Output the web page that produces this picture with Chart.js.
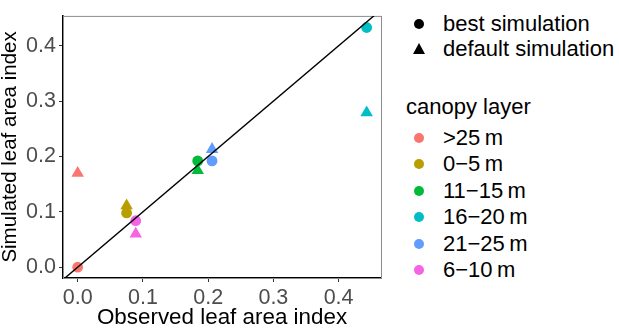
<!DOCTYPE html>
<html>
<head>
<meta charset="utf-8">
<script src="https://cdn.jsdelivr.net/npm/chart.js@4/dist/chart.umd.min.js"></script>
<style>
  html, body { margin: 0; padding: 0; background: #fff; }
  #wrap { position: relative; width: 619px; height: 329px; font-family: "Liberation Sans", Arial, sans-serif; }
  #plot { position: absolute; left: 0; top: 0; }
  .lg { position: absolute; color: #000; white-space: nowrap; }
  .sym { position: absolute; }
</style>
</head>
<body>
<div id="wrap">
  <canvas id="plot" width="390" height="329"></canvas>
  <div id="legend"></div>
</div>
<script>
// canopy layers (colour legend)
var layers = ['>25\u2009m', '0\u22125\u2009m', '11\u221215\u2009m', '16\u221220\u2009m', '21\u221225\u2009m', '6\u221210\u2009m'];
var layerColors = ['#F8766D', '#B79F00', '#00BA38', '#00BFC4', '#619CFF', '#F564E3'];

// observed vs simulated leaf area index, one value per layer
var observed = [0.0, 0.075, 0.184, 0.443, 0.206, 0.089];
var bestSim = [0.0, 0.098, 0.192, 0.433, 0.192, 0.084];
var defaultSim = [0.170, 0.111, 0.175, 0.279, 0.213, 0.060];

var shapeNames = ['best simulation', 'default simulation'];
var xTicks = [0.0, 0.1, 0.2, 0.3, 0.4];
var yTicks = [0.0, 0.1, 0.2, 0.3, 0.4];
var identityRange = [-0.1, 0.6];

Chart.defaults.font.family = '"Liberation Sans", Arial, sans-serif';

function pts(xs, ys) {
    return xs.map(function (v, i) { return { x: v, y: ys[i] }; });
}

var panelBox = {
    id: 'panelBox',
    beforeDatasetsDraw: function (chart) {
        var a = chart.chartArea, ctx = chart.ctx;
        ctx.save();
        ctx.strokeStyle = '#8c8c8c';
        ctx.lineWidth = 1;
        ctx.strokeRect(a.left + 0.5, a.top + 0.5, a.right - a.left, a.bottom - a.top);
        ctx.restore();
    }
};

function axis(title, min, max, ticks, fitKey, fitVal, titleSize) {
    return {
        type: 'linear',
        min: min,
        max: max,
        afterBuildTicks: function (s) { s.ticks = ticks.map(function (v) { return { value: v }; }); },
        afterFit: function (s) { s[fitKey] = fitVal; },
        grid: { drawOnChartArea: false, drawTicks: true, tickLength: 4, color: '#333' },
        border: { display: true, color: '#000', width: 1.6 },
        ticks: {
            color: '#4d4d4d',
            font: { size: 21.5 },
            padding: 3,
            callback: function (v) { return v.toFixed(1); }
        },
        title: { display: true, text: title, color: '#000', font: { size: titleSize, lineHeight: 1 }, padding: 0 }
    };
}

new Chart(document.getElementById('plot'), {
    type: 'scatter',
    data: {
        datasets: [{
            type: 'line',
            data: pts(identityRange, identityRange),
            borderColor: '#000',
            borderWidth: 1.4,
            pointRadius: 0
        }, {
            label: shapeNames[0],
            data: pts(observed, bestSim),
            pointStyle: 'circle',
            pointRadius: 5.4,
            borderWidth: 0,
            backgroundColor: layerColors
        }, {
            label: shapeNames[1],
            data: pts(observed, defaultSim),
            pointStyle: 'triangle',
            pointRadius: 7.2,
            borderWidth: 0,
            backgroundColor: layerColors
        }]
    },
    options: {
        responsive: false,
        animation: false,
        devicePixelRatio: 1,
        layout: { padding: { top: 2, right: 9, left: 0, bottom: 0 } },
        plugins: { legend: { display: false }, tooltip: { enabled: false } },
        scales: {
            x: axis('Observed leaf area index', -0.0225, 0.465, xTicks, 'height', 51, 22.4),
            y: axis('Simulated leaf area index', -0.0195, 0.454, yTicks, 'width', 63, 20.5)
        }
    },
    plugins: [panelBox]
});

// legend on the right, built from the arrays above
var legend = document.getElementById('legend');
var symX = 419, textX = 443, fs = 22, lh = 24;

function addText(txt, left, cy) {
    var d = document.createElement('div');
    d.className = 'lg';
    d.textContent = txt;
    d.style.left = left + 'px';
    d.style.top = (cy - lh / 2) + 'px';
    d.style.fontSize = fs + 'px';
    d.style.lineHeight = lh + 'px';
    legend.appendChild(d);
}
function addCircle(cy, color) {
    var d = document.createElement('div');
    d.className = 'sym';
    d.style.left = (symX - 5) + 'px';
    d.style.top = (cy - 5) + 'px';
    d.style.width = '10px';
    d.style.height = '10px';
    d.style.borderRadius = '50%';
    d.style.background = color;
    legend.appendChild(d);
}
function addTriangle(cy, color) {
    var d = document.createElement('div');
    d.className = 'sym';
    d.style.left = (symX - 6) + 'px';
    d.style.top = (cy - 6) + 'px';
    d.style.width = '0';
    d.style.height = '0';
    d.style.borderLeft = '6px solid transparent';
    d.style.borderRight = '6px solid transparent';
    d.style.borderBottom = '11px solid ' + color;
    legend.appendChild(d);
}

addCircle(24, '#000');
addText(shapeNames[0], textX, 24);
addTriangle(49, '#000');
addText(shapeNames[1], textX, 49);

addText('canopy layer', 406, 107);
layers.forEach(function (name, i) {
    var cy = 138 + i * 26.4;
    addCircle(cy, layerColors[i]);
    addText(name, textX, cy);
});
</script>
</body>
</html>
